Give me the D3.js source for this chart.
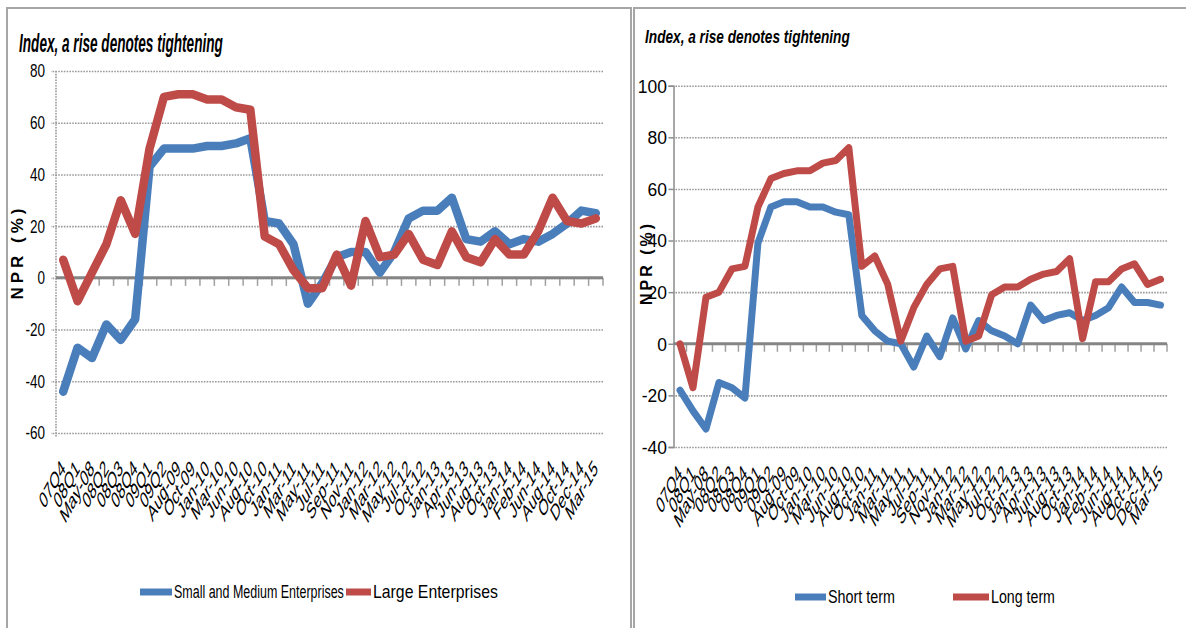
<!DOCTYPE html>
<html>
<head>
<meta charset="utf-8">
<script src="https://cdn.jsdelivr.net/npm/d3@7"></script>
<style>
  html, body { margin: 0; padding: 0; background: #fff; }
  svg { display: block; }
  text { font-family: "Liberation Sans", Arial, sans-serif; fill: #000; }
</style>
</head>
<body>
<svg id="chart" width="1186" height="628"></svg>
<script>
// Survey periods shared by both panels
const categories = ["07Q4","08Q1","May-08","08Q2","08Q3","08Q4","09Q1","09Q2","Aug-09","Oct-09",
  "Jan-10","Mar-10","Jun-10","Aug-10","Oct-10","Jan-11","Mar-11","May-11","Jul-11","Sep-11",
  "Nov-11","Jan-12","Mar-12","May-12","Jul-12","Oct-12","Jan-13","Apr-13","Jun-13","Aug-13",
  "Oct-13","Jan-14","Feb-14","Jun-14","Aug-14","Oct-14","Dec-14","Mar-15"];

// Left panel: credit standards by firm size (net percentage)
const smeValues   = [-44,-27,-31,-18,-24,-16,43,50,50,50,51,51,52,54,22,21,13,-10,-2,8,
  10,10,2,10,23,26,26,31,15,14,18,13,15,14,17,21,26,25];
const largeValues = [7,-9,2,13,30,17,50,70,71,71,69,69,66,65,16,13,3,-4,-4,9,
  -3,22,8,9,17,7,5,18,8,6,15,9,9,18,31,22,21,23];

// Right panel: credit standards by loan maturity (net percentage)
const shortTermValues = [-18,-26,-33,-15,-17,-21,39,53,55,55,53,53,51,50,11,5,1,0,-9,3,
  -5,10,-2,9,5,3,0,15,9,11,12,9,11,14,22,16,16,15];
const longTermValues  = [0,-17,18,20,29,30,53,64,66,67,67,70,71,76,30,34,23,1,14,23,
  29,30,1,3,19,22,22,25,27,28,33,2,24,24,29,31,23,25];

const leftTicks  = [80,60,40,20,0,-20,-40,-60];
const rightTicks = [100,80,60,40,20,0,-20,-40];

const titleText = "Index, a rise denotes tightening";
const axisTitle = "NPR (%)";
const leftLegend  = ["Small and Medium Enterprises","Large Enterprises"];
const rightLegend = ["Short term","Long term"];

const BLUE = "#4a7ebb", RED = "#be4b48";
const svg = d3.select("#chart");

// squeeze a text horizontally so that it spans the given width
function fitText(sel, x, y, width) {
  const natural = sel.node().getComputedTextLength();
  const k = width / natural;
  sel.attr("transform", `translate(${x},${y}) scale(${k},1)`);
}

// panel frames
svg.append("rect").attr("x",7).attr("y",8).attr("width",624).attr("height",640)
  .attr("fill","none").attr("stroke","#a6a6a6").attr("stroke-width",2);
svg.append("rect").attr("x",634).attr("y",8).attr("width",560).attr("height",640)
  .attr("fill","none").attr("stroke","#a6a6a6").attr("stroke-width",2);

function panel(cfg) {
  const g = svg.append("g");
  const x = d3.scaleBand().domain(categories).range([cfg.x0, cfg.x1]);
  const y = d3.scaleLinear().domain(cfg.yDomain).range([cfg.yBottom, cfg.yTop]);
  const cx = c => x(c) + x.bandwidth() / 2;

  // horizontal gridlines
  const gg = g.append("g").attr("transform", `translate(${cfg.x1},0)`)
    .call(d3.axisRight(y).tickValues(cfg.ticks).tickSize(-(cfg.x1 - cfg.x0) - cfg.gridLead).tickFormat(""));
  gg.select(".domain").remove();
  gg.selectAll("line").attr("stroke","#9a9a9a").attr("stroke-width",1.6)
    .attr("stroke-dasharray","1.6,1.2");

  // value axis
  if (cfg.dottedAxis) {
    g.append("line").attr("x1",cfg.x0).attr("x2",cfg.x0)
      .attr("y1",cfg.yTop).attr("y2",cfg.yBottom+4)
      .attr("stroke","#9a9a9a").attr("stroke-width",1.6).attr("stroke-dasharray","1.6,1.2");
  } else {
    const ya = g.append("g").attr("transform",`translate(${cfg.x0},0)`)
      .call(d3.axisLeft(y).tickValues(cfg.ticks).tickSize(5).tickFormat(""));
    ya.selectAll("line, path").attr("stroke","#8c8c8c").attr("stroke-width",1.5);
  }

  // value labels
  cfg.ticks.forEach(t => {
    g.append("text")
      .attr("transform",`translate(${cfg.labelX},${y(t) + cfg.labelSize*0.36}) scale(${cfg.labelScale},1)`)
      .attr("text-anchor","end").attr("font-size",cfg.labelSize).text(t);
  });

  // zero baseline with category tick marks
  const bounds = d3.range(1, categories.length + 1).map(i => cfg.x0 + i * x.step());
  g.selectAll(null).data(bounds).enter().append("line")
    .attr("x1",d=>d).attr("x2",d=>d).attr("y1",y(0)).attr("y2",y(0)+8)
    .attr("stroke","#a0a0a0").attr("stroke-width",1.5);
  g.append("line").attr("x1",cfg.x0).attr("x2",cfg.x1).attr("y1",y(0)).attr("y2",y(0))
    .attr("stroke","#858585").attr("stroke-width",3);

  // category labels, slanted
  categories.forEach(c => {
    g.append("text")
      .attr("transform",`translate(${cx(c) + cfg.catDx},${cfg.catY}) scale(${cfg.catScale},1) rotate(-45)`)
      .attr("text-anchor","end").attr("font-size",cfg.catSize).text(c);
  });

  // series lines
  const line = d3.line().x((d,i)=>cx(categories[i])).y(d=>y(d));
  cfg.series.forEach(s => {
    g.append("path").datum(s.values).attr("d",line).attr("fill","none")
      .attr("stroke",s.color).attr("stroke-width",cfg.lineWidth)
      .attr("stroke-linejoin","round").attr("stroke-linecap","round");
  });

  // chart title
  const t = g.append("text").attr("font-size",cfg.titleSize).attr("font-weight","bold")
    .attr("font-style","italic").text(titleText);
  fitText(t, cfg.titleX, cfg.titleY, cfg.titleLen);

  // value-axis title
  g.append("text").attr("transform",`translate(${cfg.ytX},${cfg.ytY}) rotate(-90)`)
    .attr("text-anchor","middle").attr("font-size",cfg.ytSize).attr("font-weight","bold")
    .attr("letter-spacing",cfg.ytSpacing).text(axisTitle);

  // legend
  cfg.legend.forEach((l,i) => {
    g.append("line").attr("x1",l.x1).attr("x2",l.x2).attr("y1",cfg.legY).attr("y2",cfg.legY)
      .attr("stroke",cfg.series[i].color).attr("stroke-width",7);
    const lt = g.append("text").attr("font-size",cfg.legSize).text(l.text);
    fitText(lt, l.x2 + 2, cfg.legY + 6, l.len);
  });
}

panel({
  x0:56, x1:603, yTop:71, yBottom:433, yDomain:[-60,80], ticks:leftTicks, gridLead:5,
  dottedAxis:true, labelX:45, labelSize:18, labelScale:0.75,
  catDx:3, catY:470, catScale:0.55, catSize:23, lineWidth:8.5,
  titleX:19, titleY:52, titleSize:25, titleLen:204,
  ytX:23, ytY:252, ytSize:17, ytSpacing:4,
  series:[{values:smeValues,color:BLUE},{values:largeValues,color:RED}],
  legY:592, legSize:19,
  legend:[{x1:140,x2:172,text:leftLegend[0],len:170},{x1:346,x2:371,text:leftLegend[1],len:125}]
});

panel({
  x0:673.5, x1:1167, yTop:85.7, yBottom:447, yDomain:[-40,100], ticks:rightTicks, gridLead:0,
  dottedAxis:false, labelX:667, labelSize:19, labelScale:0.92,
  catDx:3, catY:475, catScale:0.55, catSize:23, lineWidth:7,
  titleX:645, titleY:43, titleSize:19, titleLen:205,
  ytX:652, ytY:263, ytSize:16, ytSpacing:3,
  series:[{values:shortTermValues,color:BLUE},{values:longTermValues,color:RED}],
  legY:597, legSize:19,
  legend:[{x1:795,x2:826,text:rightLegend[0],len:67},{x1:953,x2:989,text:rightLegend[1],len:64}]
});
</script>
</body>
</html>
